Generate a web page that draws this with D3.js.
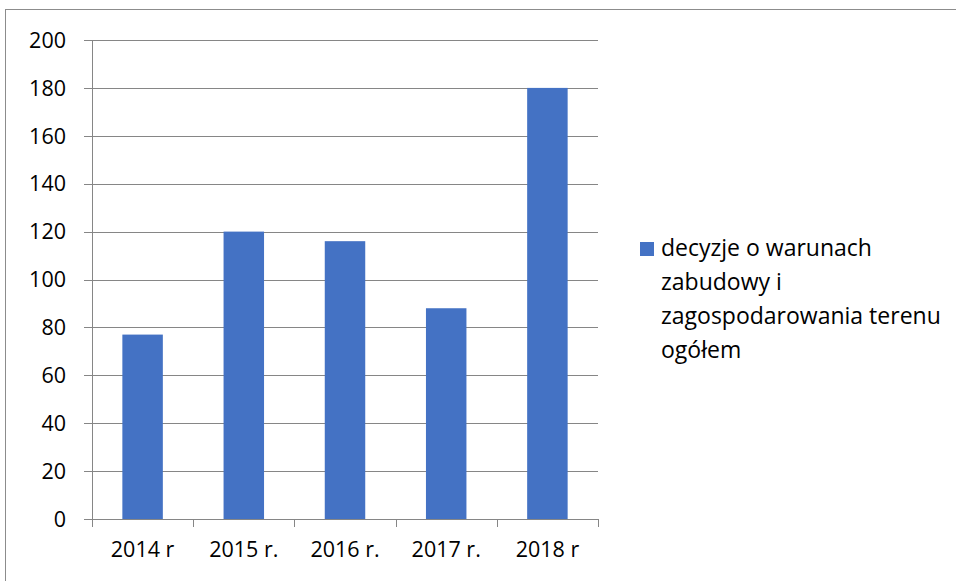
<!DOCTYPE html>
<html>
<head>
<meta charset="utf-8">
<script src="https://cdn.jsdelivr.net/npm/d3@7"></script>
<style>
  body { margin: 0; background: #fff; }
  text { font-family: "Open Sans", "Liberation Sans", sans-serif; fill: #000; }
</style>
</head>
<body>
<div id="chart"></div>
<script>
// data
const years = ['2014 r', '2015 r.', '2016 r.', '2017 r.', '2018 r'];
const values = [77, 120, 116, 88, 180];
const yTicks = [0, 20, 40, 60, 80, 100, 120, 140, 160, 180, 200];
const legendLines = ['decyzje o warunach', 'zabudowy i', 'zagospodarowania terenu', 'ogółem'];

const W = 956, H = 581;
const plot = { left: 92, right: 598, top: 40, bottom: 519 };
const gridColor = '#868686';
const barColor = '#4472c4';

const svg = d3.select('#chart').append('svg')
  .attr('width', W)
  .attr('height', H);

// outer chart border
svg.append('rect')
  .attr('x', 5.5).attr('y', 9.5)
  .attr('width', W).attr('height', H)
  .attr('fill', 'none')
  .attr('stroke', '#8c8c8c')
  .attr('stroke-width', 1);

const x = d3.scaleBand()
  .domain(years)
  .range([plot.left, plot.right])
  .padding(0);

const y = d3.scaleLinear()
  .domain([0, 200])
  .range([plot.bottom, plot.top]);

// gridlines + y labels
const yg = svg.append('g');
yg.selectAll('line')
  .data(yTicks)
  .join('line')
  .attr('x1', plot.left - 8)
  .attr('x2', plot.right)
  .attr('y1', d => Math.round(y(d)) + 0.5)
  .attr('y2', d => Math.round(y(d)) + 0.5)
  .attr('stroke', gridColor)
  .attr('stroke-width', 1);

yg.selectAll('text')
  .data(yTicks)
  .join('text')
  .attr('x', 66)
  .attr('y', d => y(d))
  .attr('dy', '0.36em')
  .attr('text-anchor', 'end')
  .style('font-size', '21.5px')
  .text(d => d);

// y axis line
svg.append('line')
  .attr('x1', plot.left + 0.5).attr('x2', plot.left + 0.5)
  .attr('y1', plot.top).attr('y2', plot.bottom)
  .attr('stroke', gridColor);

// bars
const barW = x.bandwidth() * 0.4;
svg.selectAll('.bar')
  .data(values)
  .join('rect')
  .attr('class', 'bar')
  .attr('x', (d, i) => x(years[i]) + (x.bandwidth() - barW) / 2)
  .attr('y', d => y(d))
  .attr('width', barW)
  .attr('height', d => plot.bottom - y(d))
  .attr('fill', barColor);

// x axis ticks at band edges
const edges = years.map(d => x(d)).concat([plot.right]);
svg.append('g').selectAll('line')
  .data(edges)
  .join('line')
  .attr('x1', d => Math.round(d) + 0.5)
  .attr('x2', d => Math.round(d) + 0.5)
  .attr('y1', plot.bottom)
  .attr('y2', plot.bottom + 8)
  .attr('stroke', gridColor);

svg.append('line')
  .attr('x1', plot.left).attr('x2', plot.right)
  .attr('y1', plot.bottom + 0.5).attr('y2', plot.bottom + 0.5)
  .attr('stroke', gridColor);

svg.append('g').selectAll('text')
  .data(years)
  .join('text')
  .attr('x', d => x(d) + x.bandwidth() / 2)
  .attr('y', 549)
  .attr('dy', '0.36em')
  .attr('text-anchor', 'middle')
  .style('font-size', '21.5px')
  .text(d => d);

// legend
const lg = svg.append('g');
lg.append('rect')
  .attr('x', 640).attr('y', 242)
  .attr('width', 14).attr('height', 14)
  .attr('fill', barColor);

lg.selectAll('text')
  .data(legendLines)
  .join('text')
  .attr('x', 661)
  .attr('y', (d, i) => 248 + i * 34)
  .attr('dy', '0.36em')
  .style('font-size', '23px')
  .text(d => d);
</script>
</body>
</html>
